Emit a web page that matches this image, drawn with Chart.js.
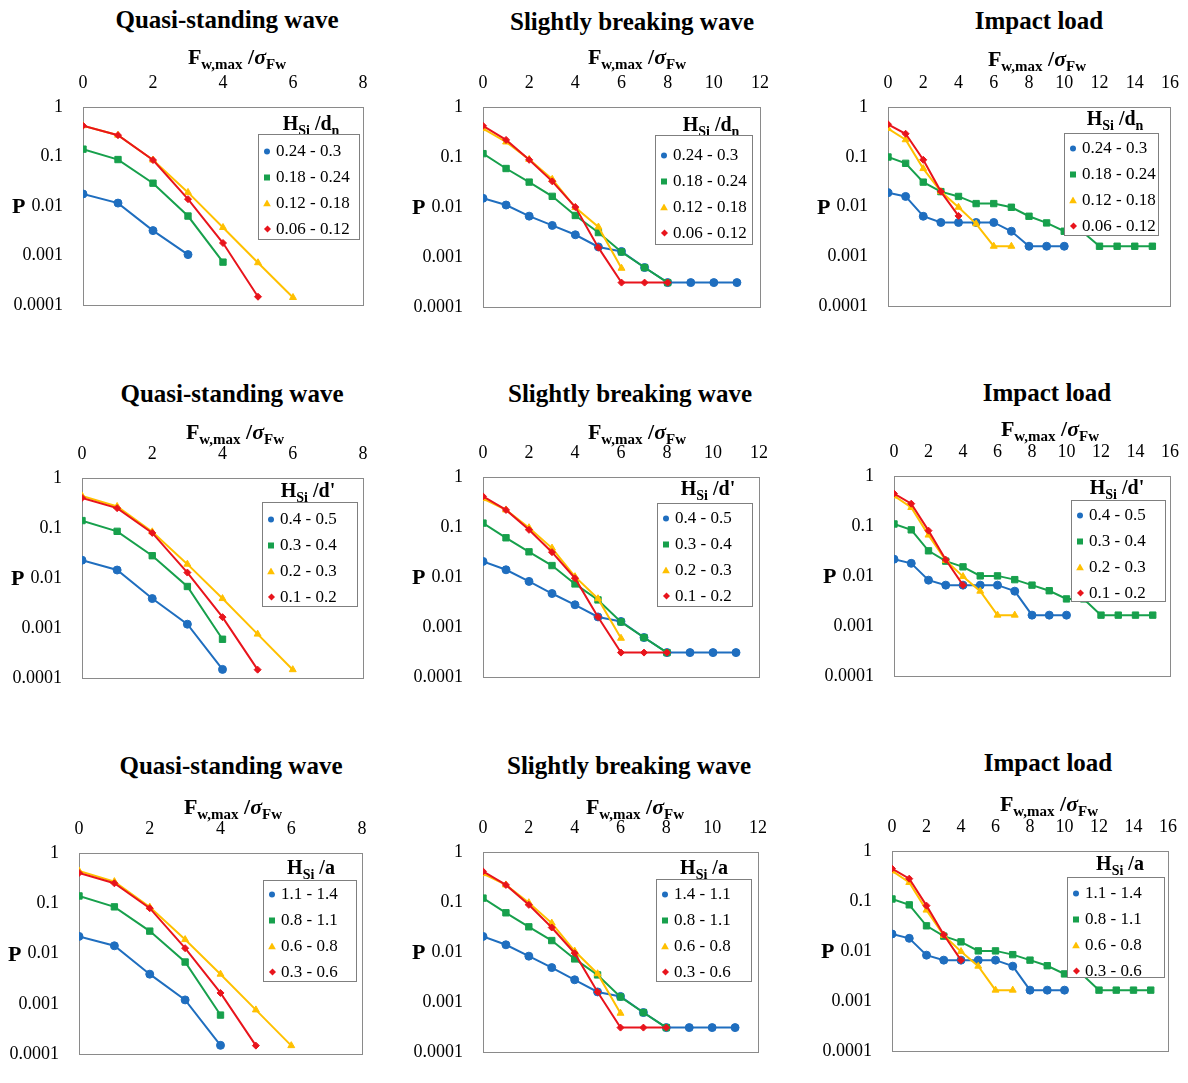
<!DOCTYPE html>
<html>
<head>
<meta charset="utf-8">
<script src="https://cdn.jsdelivr.net/npm/chart.js@4.4.1/dist/chart.umd.min.js"></script>
<style>
  body { margin: 0; background: #fff; font-family: 'Liberation Serif', 'Times New Roman', serif; }
  #page { position: relative; width: 1188px; height: 1083px; overflow: hidden; background: #fff; }
  canvas { position: absolute; }
  .lbl { position: absolute; white-space: nowrap; transform: translate(-50%, -50%); color: #000; line-height: 1; }
  .title { font-size: 25px; font-weight: bold; }
  .axt { font-size: 22px; font-weight: bold; }
  .axt sub { font-size: 15px; }
  .plab { position: absolute; font-size: 22px; font-weight: bold; line-height: 1; transform: translateY(-50%); }
  .legbox { position: absolute; border: 1px solid #7f7f7f; background: #fff; box-sizing: border-box; z-index: 2; }
  .legtitle { font-size: 20px; font-weight: bold; }
  .legtitle sub { font-size: 14px; }
  .item { position: absolute; left: 0; font-size: 17px; line-height: 1; transform: translateY(-50%); white-space: nowrap; }
  .mkwrap { position: relative; display: inline-block; height: 0; vertical-align: middle; }
  .mk { position: absolute; }
  sub { line-height: 0; vertical-align: -0.35em; }
</style>
</head>
<body>
<div id="page"></div>
<script>
// Fw,max / sigma_Fw steps (x values)
const xSteps = [0, 1, 2, 3, 4, 5, 6, 7, 8, 9, 10, 11, 12, 13, 14, 15];
const yTickValues = [0.0001, 0.001, 0.01, 0.1, 1];
const yTickLabels = ['0.0001', '0.001', '0.01', '0.1', '1'];
const panelTitles = ['Quasi-standing wave', 'Slightly breaking wave', 'Impact load'];
const xMaxes = [8, 12, 16];

// legend labels
const legendDn = ['0.24 - 0.3', '0.18 - 0.24', '0.12 - 0.18', '0.06 - 0.12'];
const legendDp = ['0.4 - 0.5', '0.3 - 0.4', '0.2 - 0.3', '0.1 - 0.2'];
const legendA = ['1.1 - 1.4', '0.8 - 1.1', '0.6 - 0.8', '0.3 - 0.6'];
const legendA2 = ['1.4 - 1.1', '0.8 - 1.1', '0.6 - 0.8', '0.3 - 0.6'];

// row 1: H_Si / d_n
const qsDnBlue = [0.0176, 0.0115, 0.0032, 0.00105];
const qsDnGreen = [0.141, 0.087, 0.029, 0.0063, 0.00074];
const qsDnYellow = [0.42, 0.27, 0.085, 0.0189, 0.0037, 0.00072, 0.000143];
const qsDnRed = [0.42, 0.27, 0.085, 0.0138, 0.0018, 0.000148];

const sbDnBlue = [0.015, 0.011, 0.0066, 0.0043, 0.0028, 0.0016, 0.0013, 0.00062, 0.00031, 0.00031, 0.00031, 0.00031];
const sbDnGreen = [0.117, 0.059, 0.0316, 0.0164, 0.0068, 0.0031, 0.00127, 0.00062, 0.00031];
const sbDnYellow = [0.37, 0.2, 0.09, 0.036, 0.0098, 0.004, 0.0006];
const sbDnRed = [0.42, 0.22, 0.088, 0.0327, 0.01, 0.00155, 0.00031, 0.00031, 0.00031];

const imDnBlue = [0.019, 0.016, 0.0064, 0.0048, 0.0048, 0.0048, 0.0048, 0.0032, 0.0016, 0.0016, 0.0016];
const imDnGreen = [0.099, 0.074, 0.031, 0.02, 0.016, 0.0115, 0.0115, 0.0097, 0.0064, 0.0047, 0.0032, 0.0032, 0.0016, 0.0016, 0.0016, 0.0016];
const imDnYellow = [0.37, 0.22, 0.058, 0.02, 0.0097, 0.0045, 0.0016, 0.0016];
const imDnRed = [0.45, 0.29, 0.087, 0.02, 0.0065];

// row 2: H_Si / d'
const qsDpBlue = [0.0228, 0.0145, 0.0039, 0.0012, 0.00015];
const qsDpGreen = [0.141, 0.086, 0.028, 0.0068, 0.0006];
const qsDpYellow = [0.44, 0.27, 0.084, 0.019, 0.0039, 0.00076, 0.000148];
const qsDpRed = [0.40, 0.25, 0.080, 0.0129, 0.00166, 0.000148];

const sbDpBlue = [0.0206, 0.014, 0.0082, 0.0047, 0.0028, 0.0016, 0.0013, 0.00062, 0.00031, 0.00031, 0.00031, 0.00031];
const sbDpGreen = [0.12, 0.061, 0.032, 0.017, 0.0073, 0.0035, 0.00127, 0.00062, 0.00031];
const sbDpYellow = [0.37, 0.22, 0.097, 0.038, 0.0102, 0.0037, 0.0006];
const sbDpRed = [0.41, 0.22, 0.088, 0.0315, 0.0095, 0.0016, 0.00031, 0.00031, 0.00031];

const imDpBlue = [0.0218, 0.018, 0.0083, 0.0066, 0.0066, 0.0066, 0.0066, 0.005, 0.00166, 0.00166, 0.00166];
const imDpGreen = [0.11, 0.084, 0.032, 0.0199, 0.0153, 0.0101, 0.0101, 0.0085, 0.0066, 0.0051, 0.0035, 0.0035, 0.00166, 0.00166, 0.00166, 0.00166];
const imDpYellow = [0.40, 0.235, 0.066, 0.0206, 0.0098, 0.005, 0.00166, 0.00166];
const imDpRed = [0.445, 0.28, 0.081, 0.0212, 0.0066];

// row 3: H_Si / a
const qsABlue = [0.022, 0.0143, 0.0039, 0.0012, 0.00015];
const qsAGreen = [0.14, 0.085, 0.028, 0.0068, 0.0006];
const qsAYellow = [0.44, 0.27, 0.084, 0.019, 0.0039, 0.00076, 0.000148];
const qsARed = [0.40, 0.25, 0.080, 0.0128, 0.00165, 0.000148];

const sbABlue = [0.0206, 0.014, 0.0083, 0.0049, 0.0028, 0.0016, 0.0013, 0.00062, 0.00031, 0.00031, 0.00031, 0.00031];
const sbAGreen = [0.12, 0.061, 0.032, 0.017, 0.0073, 0.0035, 0.00127, 0.00062, 0.00031];
const sbAYellow = [0.37, 0.22, 0.097, 0.038, 0.0105, 0.0037, 0.0006];
const sbARed = [0.41, 0.22, 0.088, 0.031, 0.0095, 0.0016, 0.00031, 0.00031, 0.00031];

const imABlue = [0.022, 0.018, 0.0083, 0.0066, 0.0066, 0.0066, 0.0066, 0.005, 0.00166, 0.00166, 0.00166];
const imAGreen = [0.11, 0.084, 0.032, 0.0199, 0.0153, 0.0101, 0.0101, 0.0085, 0.0066, 0.0051, 0.0035, 0.0035, 0.00166, 0.00166, 0.00166, 0.00166];
const imAYellow = [0.40, 0.235, 0.066, 0.0206, 0.0098, 0.005, 0.00166, 0.00166];
const imARed = [0.445, 0.28, 0.081, 0.0212, 0.0066];

// styles
const seriesColors = ['#1f6ebf', '#17a04c', '#ffc000', '#e8141c'];
const seriesMarkers = ['circle', 'rect', 'triangle', 'rectRot'];
const markerRadius = [4, 4.5, 4, 3.5];
const drawOrder = [3, 2, 1, 0];
const FONT = "'Liberation Serif', 'Times New Roman', serif";

const panels = [
  { col: 0, den: 'd<sub>n</sub>', labels: legendDn, series: [qsDnBlue, qsDnGreen, qsDnYellow, qsDnRed] },
  { col: 1, den: 'd<sub>n</sub>', labels: legendDn, series: [sbDnBlue, sbDnGreen, sbDnYellow, sbDnRed] },
  { col: 2, den: 'd<sub>n</sub>', labels: legendDn, series: [imDnBlue, imDnGreen, imDnYellow, imDnRed] },
  { col: 0, den: "d'", labels: legendDp, series: [qsDpBlue, qsDpGreen, qsDpYellow, qsDpRed] },
  { col: 1, den: "d'", labels: legendDp, series: [sbDpBlue, sbDpGreen, sbDpYellow, sbDpRed] },
  { col: 2, den: "d'", labels: legendDp, series: [imDpBlue, imDpGreen, imDpYellow, imDpRed] },
  { col: 0, den: 'a', labels: legendA, series: [qsABlue, qsAGreen, qsAYellow, qsARed] },
  { col: 1, den: 'a', labels: legendA2, series: [sbABlue, sbAGreen, sbAYellow, sbARed] },
  { col: 2, den: 'a', labels: legendA, series: [imABlue, imAGreen, imAYellow, imARed] }
];

// layout (page pixels)
const plotRects = [
  [83, 107, 363, 322], [483, 107, 760, 324], [888, 107, 1170, 323],
  [82, 478, 363, 695], [483, 477, 759, 694], [894, 476, 1170, 693],
  [79, 853, 362, 1071], [483, 852, 758, 1069], [892, 851, 1168, 1068]
];
const titlePos = [[227, 19], [632, 21], [1039, 20], [232, 393], [630, 393], [1047, 392], [231, 765], [629, 765], [1048, 762]];
const axisTitlePos = [[237, 57], [637, 57], [1037, 59], [235, 432], [637, 432], [1050, 429], [233, 807], [635, 807], [1049, 804]];
const legendBox = [
  [258, 134, 360, 240], [655, 135, 753, 245], [1064, 133, 1159, 236],
  [262, 502, 358, 607], [657, 503, 753, 607], [1071, 500, 1166, 602],
  [263, 880, 357, 982], [656, 879, 752, 982], [1067, 877, 1165, 978]
];
const legendTitlePos = [[311, 123], [711, 124], [1115, 118], [308, 490], [708, 488], [1117, 487], [311, 867], [704, 867], [1120, 863]];
const legendFirstY = [149, 153, 146, 517, 516, 513, 892, 892, 891];
const legendStep = 26;
const legendTextX = 17;

const Y_AXIS_W = 78, X_AXIS_H = 40, PAD_R = 24, PAD_B = 14;

const page = document.getElementById('page');

function addLabel(cls, html, x, y) {
  const el = document.createElement('div');
  el.className = 'lbl ' + cls;
  el.innerHTML = html;
  el.style.left = x + 'px';
  el.style.top = y + 'px';
  page.appendChild(el);
  return el;
}

function markerHtml(i) {
  const c = seriesColors[i];
  if (i === 0) return `<span class="mk" style="left:5px;top:-3px;width:6px;height:6px;border-radius:50%;background:${c}"></span>`;
  if (i === 1) return `<span class="mk" style="left:5px;top:-3px;width:6px;height:6px;background:${c}"></span>`;
  if (i === 2) return `<span class="mk" style="left:4px;top:-4px;width:8px;height:7px;background:${c};clip-path:polygon(50% 0,100% 100%,0 100%)"></span>`;
  return `<span class="mk" style="left:6px;top:-3px;width:5px;height:5px;background:${c};transform:rotate(45deg)"></span>`;
}

const framePlugin = {
  id: 'frame',
  beforeDatasetsDraw(chart) {
    const a = chart.chartArea;
    const ctx = chart.ctx;
    ctx.save();
    ctx.strokeStyle = '#8a8a8a';
    ctx.lineWidth = 1;
    ctx.strokeRect(Math.round(a.left) + 0.5, Math.round(a.top) + 0.5, Math.round(a.right - a.left), Math.round(a.bottom - a.top));
    ctx.restore();
  }
};

panels.forEach((p, idx) => {
  const [l, t, r, b] = plotRects[idx];
  const canvas = document.createElement('canvas');
  const w = (r - l) + Y_AXIS_W + PAD_R;
  const h = (b - t) + X_AXIS_H + PAD_B;
  canvas.width = w;
  canvas.height = h;
  canvas.style.left = (l - Y_AXIS_W) + 'px';
  canvas.style.top = (t - X_AXIS_H) + 'px';
  canvas.style.width = w + 'px';
  canvas.style.height = h + 'px';
  page.appendChild(canvas);

  const datasets = p.series.map((vals, i) => ({
    label: p.labels[i],
    data: vals.map((v, k) => ({ x: xSteps[k], y: v })),
    borderColor: seriesColors[i],
    backgroundColor: seriesColors[i],
    pointBackgroundColor: seriesColors[i],
    pointBorderColor: seriesColors[i],
    pointBorderWidth: 1,
    pointStyle: seriesMarkers[i],
    pointRadius: markerRadius[i],
    borderWidth: 2,
    tension: 0,
    order: drawOrder[i]
  }));

  const chart = new Chart(canvas.getContext('2d'), {
    type: 'line',
    data: { datasets },
    options: {
      responsive: false,
      animation: false,
      devicePixelRatio: 1,
      layout: { padding: { left: 0, top: 0, right: PAD_R, bottom: PAD_B } },
      plugins: { legend: { display: false }, tooltip: { enabled: false }, title: { display: false } },
      scales: {
        x: {
          type: 'linear',
          position: 'top',
          min: 0,
          max: xMaxes[p.col],
          grid: { display: false, drawTicks: false },
          border: { display: false },
          ticks: { stepSize: 2, color: '#000', padding: 13, font: { family: FONT, size: 18 } },
          afterFit: s => { s.height = X_AXIS_H; }
        },
        y: {
          type: 'logarithmic',
          min: 0.0001,
          max: 1,
          grid: { display: false, drawTicks: false },
          border: { display: false },
          afterBuildTicks: s => { s.ticks = yTickValues.map(v => ({ value: v })); },
          ticks: {
            color: '#000',
            padding: 20,
            font: { family: FONT, size: 18 },
            callback: (v) => {
              const k = yTickValues.findIndex(t => Math.abs(t - v) / t < 1e-6);
              return k >= 0 ? yTickLabels[k] : '';
            }
          },
          afterFit: s => { s.width = Y_AXIS_W; }
        }
      }
    },
    plugins: [framePlugin]
  });

  // titles
  addLabel('title', panelTitles[p.col], titlePos[idx][0], titlePos[idx][1]);
  addLabel('axt', 'F<sub>w,max</sub> /<i>σ</i><sub>Fw</sub>', axisTitlePos[idx][0], axisTitlePos[idx][1]);

  // "P" axis label next to the 0.01 tick
  const py = t - X_AXIS_H + chart.scales.y.getPixelForValue(0.01);
  const pl = document.createElement('div');
  pl.className = 'plab';
  pl.textContent = 'P';
  pl.style.left = (l - 71) + 'px';
  pl.style.top = py + 'px';
  page.appendChild(pl);

  // legend
  const [bl, bt, br, bb] = legendBox[idx];
  addLabel('legtitle', 'H<sub>Si</sub> /' + p.den, legendTitlePos[idx][0], legendTitlePos[idx][1]);
  const box = document.createElement('div');
  box.className = 'legbox';
  box.style.left = bl + 'px';
  box.style.top = bt + 'px';
  box.style.width = (br - bl) + 'px';
  box.style.height = (bb - bt) + 'px';
  p.labels.forEach((lab, i) => {
    const it = document.createElement('div');
    it.className = 'item';
    it.style.top = (legendFirstY[idx] + i * legendStep - bt) + 'px';
    it.innerHTML = `<span class="mkwrap" style="width:${legendTextX}px">${markerHtml(i)}</span>${lab}`;
    box.appendChild(it);
  });
  page.appendChild(box);
});
</script>
</body>
</html>
